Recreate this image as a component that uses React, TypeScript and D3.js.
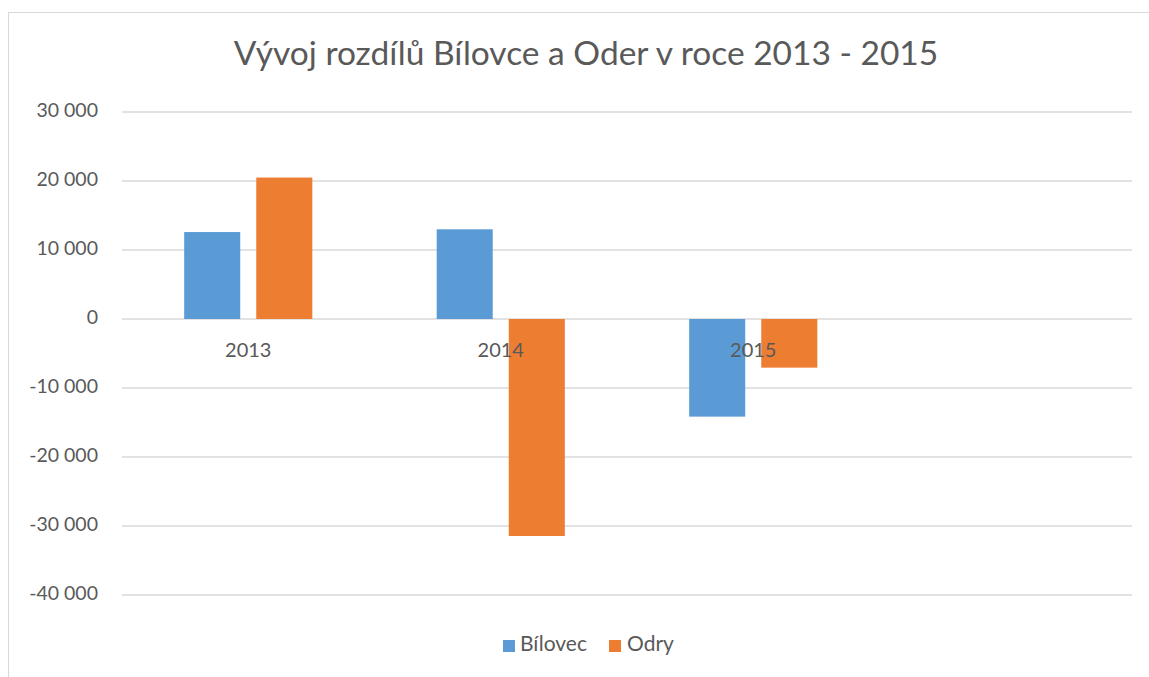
import React from "react";
import * as d3 from "d3";

// data
const years = ["2013", "2014", "2015", ""];
const seriesNames = ["Bílovec", "Odry"];
const bilovec = [12600, 13000, -14150, null];
const odry = [20500, -31450, -7050, null];
const yTicks = [30000, 20000, 10000, 0, -10000, -20000, -30000, -40000];
const colors = ["#5b9bd5", "#ed7d31"];

const W = 1149;
const H = 677;
const FONT = "Lato, 'Open Sans', sans-serif";

export default function App() {
  const margin = { left: 122, right: 17, top: 112, bottom: 82 };
  const x = d3
    .scaleBand()
    .domain(years.map((d, i) => String(i)))
    .range([margin.left, W - margin.right]);
  const y = d3.scaleLinear().domain([-40000, 30000]).range([H - margin.bottom, margin.top]);

  // excel-like: gap width ~222%, overlap ~ -29%
  const barW = x.bandwidth() * 0.222;
  const barGap = barW * 0.286;
  const groupW = barW * 2 + barGap;
  const barX = (i: number, si: number) =>
    (x(String(i)) as number) + (x.bandwidth() - groupW) / 2 + si * (barW + barGap);

  const fmt = (v: number) => (v < 0 ? "-" : "") + d3.format(",")(Math.abs(v)).replace(/,/g, " ");
  const series = [bilovec, odry];

  return (
    <svg width={W} height={H} style={{ position: "absolute", left: 0, top: 0, background: "#fff" }}>
      <rect x={8.5} y={12.5} width={W} height={H} fill="none" stroke="#d9d9d9" />
      <text x={586} y={57} textAnchor="middle" dominantBaseline="middle" fontSize={33.5} fill="#595959" fontFamily={FONT}>
        Vývoj rozdílů Bílovce a Oder v roce 2013 - 2015
      </text>
      {yTicks.map((t) => (
        <g key={t}>
          <line x1={margin.left} x2={W - margin.right} y1={y(t)} y2={y(t)} stroke="#d9d9d9" strokeWidth={1.5} />
          <text x={98} y={y(t)} textAnchor="end" dominantBaseline="middle" fontSize={19.5} fill="#595959" fontFamily={FONT}>
            {fmt(t)}
          </text>
        </g>
      ))}
      {series.map((vals, si) =>
        vals.map((v, i) =>
          v == null ? null : (
            <rect
              key={si + "-" + i}
              x={barX(i, si)}
              width={barW}
              y={y(Math.max(0, v))}
              height={Math.abs(y(v) - y(0))}
              fill={colors[si]}
            />
          )
        )
      )}
      {years.map((yr, i) => (
        <text
          key={i}
          x={(x(String(i)) as number) + x.bandwidth() / 2}
          y={352}
          textAnchor="middle"
          dominantBaseline="middle"
          fontSize={20}
          fill="#595959"
          fontFamily={FONT}
        >
          {yr}
        </text>
      ))}
      <g fontFamily={FONT} fontSize={21} fill="#595959">
        <rect x={503} y={640} width={12} height={12} fill={colors[0]} />
        <text x={520} y={646} dominantBaseline="middle">{seriesNames[0]}</text>
        <rect x={609} y={640} width={12} height={12} fill={colors[1]} />
        <text x={627} y={646} dominantBaseline="middle">{seriesNames[1]}</text>
      </g>
    </svg>
  );
}
